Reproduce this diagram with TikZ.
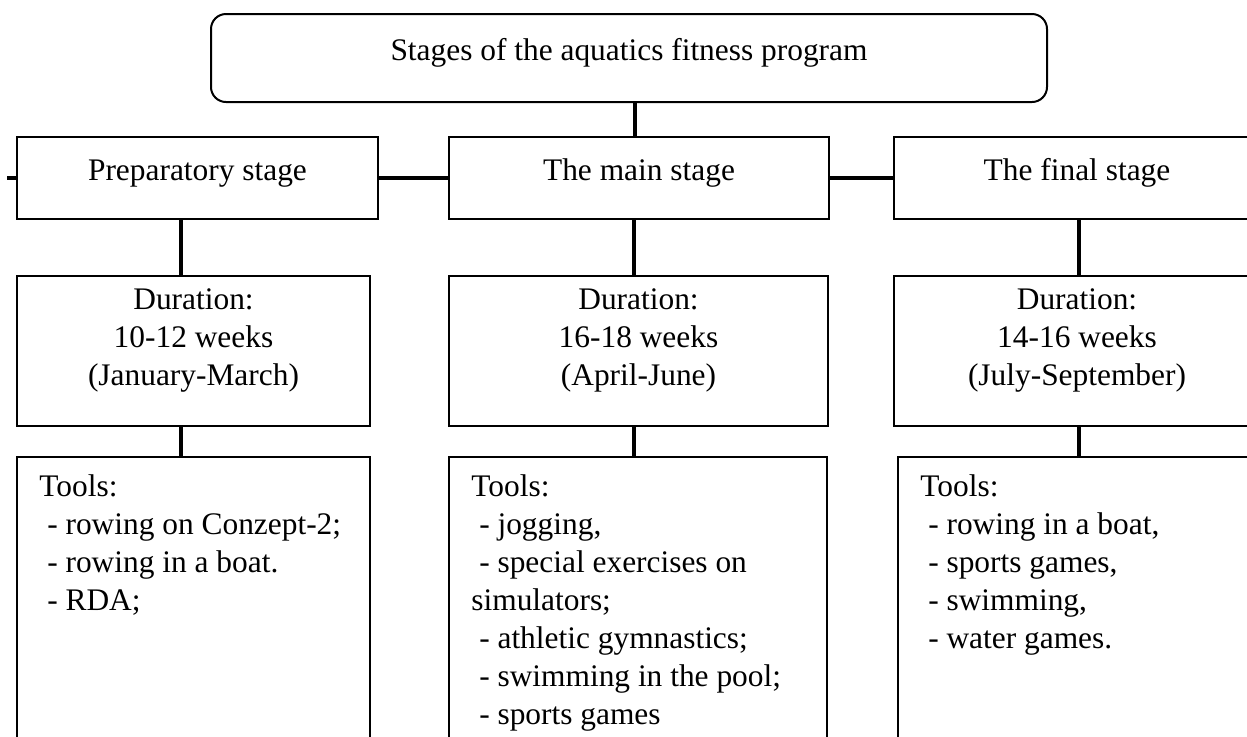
\documentclass[tikz,border=0pt]{standalone}
\usepackage{fontspec}
\setmainfont{Liberation Serif}
\usetikzlibrary{positioning}

\begin{document}
\begin{tikzpicture}[x=0.5pt,y=-0.5pt,
        font=\fontsize{15.7}{19}\selectfont,
        box/.style={draw,line width=1pt,inner sep=0pt},
        stagebox/.style={box,text height=21.5pt,text depth=19.5pt},
        boxtext/.style={inner sep=0pt},
        link/.style={line width=2.2pt}]
        \useasboundingbox (0,0) rectangle (1247,736);
        \clip (0,0) rectangle (1247,736);

        % title
        \node[box,rounded corners=7.5pt,minimum width=418pt,text height=23pt,text depth=21pt](title)at(629,58){Stages of the aquatics fitness program};

        % stages
        \node[stagebox,minimum width=180.5pt](prep)at(197.5,178){Preparatory stage};
        \node[stagebox,minimum width=190pt](main)at(639,178){The main stage};
        \node[stagebox,minimum width=183pt](final)at(1077,178){The final stage};

        % duration
        \node[box,minimum width=176.5pt,minimum height=75pt](prepdur)at(193.5,351){};
        \node[box,minimum width=189.5pt,minimum height=75pt](maindur)at(638.5,351){};
        \node[box,minimum width=183pt,minimum height=75pt](finaldur)at(1077,351){};
        \node[boxtext,align=center,anchor=north](prepdurtext)at([yshift=-6.5pt]prepdur.north){Duration:\\10-12 weeks\\(January-March)};
        \node[boxtext,align=center,anchor=north](maindurtext)at([yshift=-6.5pt]maindur.north){Duration:\\16-18 weeks\\(April-June)};
        \node[boxtext,align=center,anchor=north](finaldurtext)at([yshift=-6.5pt]finaldur.north){Duration:\\14-16 weeks\\(July-September)};

        % tools
        \node[box,minimum width=176.5pt,minimum height=161.5pt](preptool)at(193.5,618.5){};
        \node[box,minimum width=189pt,minimum height=161.5pt](maintool)at(638,618.5){};
        \node[box,minimum width=181pt,minimum height=161.5pt](finaltool)at(1079,618.5){};
        \node[boxtext,align=left,anchor=north west](preptooltext)at([xshift=11.5pt,yshift=-9pt]preptool.north west){Tools:\\~- rowing on Conzept-2;\\~- rowing in a boat.\\~- RDA;};
        \node[boxtext,align=left,anchor=north west](maintooltext)at([xshift=11.5pt,yshift=-9pt]maintool.north west){Tools:\\~- jogging,\\~- special exercises on\\simulators;\\~- athletic gymnastics;\\~- swimming in the pool;\\~- sports games};
        \node[boxtext,align=left,anchor=north west](finaltooltext)at([xshift=11.5pt,yshift=-9pt]finaltool.north west){Tools:\\~- rowing in a boat,\\~- sports games,\\~- swimming,\\~- water games.};

        % links
        \coordinate(stub)at(7,178);
        \draw[link]([xshift=3pt]title.south)--([xshift=3pt]title.south |- main.north);
        \draw[link](stub)--(prep.west);
        \draw[link](prep.east)--(main.west);
        \draw[link](main.east)--(final.west);
        \foreach \s/\dx in {prep/-8.25pt,main/-2.5pt,final/1pt}{
            \draw[link]([xshift=\dx]\s.south)--([xshift=\dx]\s.south |- \s dur.north);
            \draw[link]([xshift=\dx]\s.south |- \s dur.south)--([xshift=\dx]\s.south |- \s tool.north);
        }
    \end{tikzpicture}
\end{document}
